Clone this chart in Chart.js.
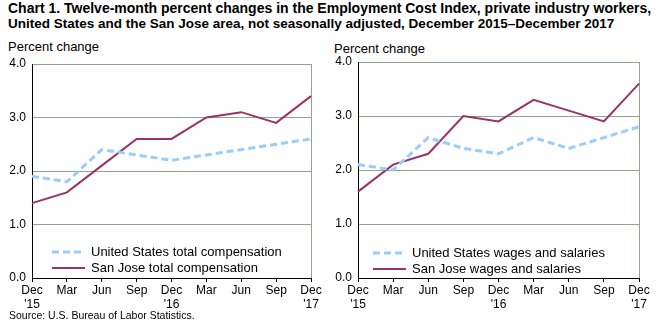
<!DOCTYPE html>
<html>
<head>
<meta charset="utf-8">
<script src="https://cdn.jsdelivr.net/npm/chart.js@4.4.0/dist/chart.umd.min.js"></script>
<style>
  html, body { margin: 0; padding: 0; background: #fff; }
  body { width: 659px; height: 328px; position: relative; overflow: hidden; font-family: "Liberation Sans", Arial, sans-serif; color: #000; }
  .title { position: absolute; left: 8px; top: 1px; font-family: "Liberation Sans Narrow", "Liberation Sans", sans-serif; font-weight: bold; font-size: 14px; line-height: 15px; white-space: nowrap; }
  .title .l2 { font-size: 13.5px; }
  .ylabel { position: absolute; font-size: 13px; white-space: nowrap; }
  .source { position: absolute; left: 9px; top: 309px; font-size: 10.5px; white-space: nowrap; }
  canvas { position: absolute; top: 0; }
  .legend { position: absolute; font-size: 13px; line-height: 16px; }
  .legend div { display: flex; align-items: center; height: 16px; white-space: nowrap; }
  .legend svg { margin-right: 6px; }
</style>
</head>
<body>
<div class="title">Chart 1. Twelve-month percent changes in the Employment Cost Index, private industry workers,<br><span class="l2">United States and the San Jose area, not seasonally adjusted, December 2015–December 2017</span></div>
<div class="ylabel" style="left:8px; top:39px;">Percent change</div>
<div class="ylabel" style="left:334px; top:41px;">Percent change</div>
<canvas id="left" width="330" height="312" style="left:0;"></canvas>
<canvas id="right" width="329" height="312" style="left:330px;"></canvas>
<div class="legend" id="legendLeft" style="left:52px; top:244px;"></div>
<div class="legend" id="legendRight" style="left:373px; top:245px;"></div>
<div class="source">Source: U.S. Bureau of Labor Statistics.</div>

<script>
/* ================= DATA ================= */
const months = ["Dec", "Mar", "Jun", "Sep", "Dec", "Mar", "Jun", "Sep", "Dec"];
const years  = ["'15", "", "", "", "'16", "", "", "", "'17"];

const usTotalComp = [1.9, 1.8, 2.4, 2.3, 2.2, 2.3, 2.4, 2.5, 2.6];
const sjTotalComp = [1.4, 1.6, 2.1, 2.6, 2.6, 3.0, 3.1, 2.9, 3.4];

const usWages = [2.1, 2.0, 2.6, 2.4, 2.3, 2.6, 2.4, 2.6, 2.8];
const sjWages = [1.6, 2.1, 2.3, 3.0, 2.9, 3.3, 3.1, 2.9, 3.6];

const yTicks = [0, 1, 2, 3, 4];

/* ================= STYLE ================= */
const US_COLOR = "#99ccff";
const SJ_COLOR = "#993366";
const GRID_COLOR = "#8fa68b";
const FONT = "'Liberation Sans', Arial, sans-serif";

const labels = months.map((m, i) => [m, years[i]]);

function makeChart(id, usData, sjData, usLabel, sjLabel, pad) {
  const ctx = document.getElementById(id).getContext("2d");
  return new Chart(ctx, {
    type: "line",
    data: {
      labels: labels,
      datasets: [
        {
          label: usLabel,
          data: usData,
          borderColor: US_COLOR,
          borderWidth: 3,
          borderDash: [7, 4],
          pointRadius: 0,
          tension: 0
        },
        {
          label: sjLabel,
          data: sjData,
          borderColor: SJ_COLOR,
          borderWidth: 2,
          pointRadius: 0,
          tension: 0
        }
      ]
    },
    options: {
      responsive: false,
      animation: false,
      layout: { padding: { top: pad.top, right: pad.right, left: 0, bottom: 0 } },
      plugins: { legend: { display: false }, tooltip: { enabled: false } },
      scales: {
        x: {
          type: "category",
          offset: false,
          afterFit: s => { s.height = 312 - 278; },
          grid: {
            drawOnChartArea: true,
            // only the right frame line shows in the plot
            color: c => c.index === months.length - 1 ? GRID_COLOR : "rgba(0,0,0,0)",
            tickColor: "#000",
            tickLength: 4
          },
          border: { color: "#000", width: 1 },
          ticks: {
            color: "#000",
            font: { family: FONT, size: 12 },
            padding: 1,
            maxRotation: 0,
            autoSkip: false
          }
        },
        y: {
          min: 0,
          max: 4,
          afterFit: s => { s.width = pad.left; },
          afterBuildTicks: s => { s.ticks = yTicks.map(v => ({ value: v })); },
          grid: { color: GRID_COLOR, drawTicks: false },
          border: { color: "#000", width: 1 },
          ticks: {
            color: "#000",
            font: { family: FONT, size: 12 },
            padding: 6,
            callback: v => v.toFixed(1)
          }
        }
      }
    }
  });
}

function buildLegend(elId, chart) {
  const el = document.getElementById(elId);
  chart.data.datasets.forEach(ds => {
    const row = document.createElement("div");
    const dash = ds.borderDash ? `stroke-dasharray="${ds.borderDash.join(" ")}"` : "";
    row.innerHTML =
      `<svg width="33" height="6"><line x1="0" y1="3" x2="33" y2="3" stroke="${ds.borderColor}" stroke-width="${ds.borderWidth}" ${dash}/></svg>` +
      `<span>${ds.label}</span>`;
    el.appendChild(row);
  });
}

const leftChart = makeChart("left", usTotalComp, sjTotalComp,
  "United States total compensation", "San Jose total compensation",
  { top: 64, right: 19, left: 32 });
const rightChart = makeChart("right", usWages, sjWages,
  "United States wages and salaries", "San Jose wages and salaries",
  { top: 62, right: 20, left: 28 });

buildLegend("legendLeft", leftChart);
buildLegend("legendRight", rightChart);
</script>
</body>
</html>
